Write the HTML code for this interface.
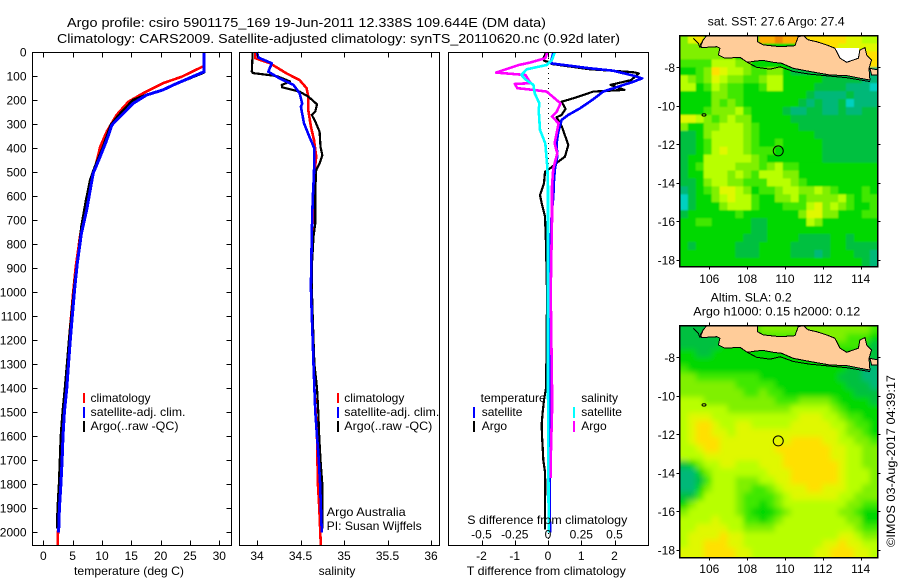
<!DOCTYPE html>
<html lang="en">
<head>
<meta charset="utf-8">
<title>Argo profile csiro 5901175_169</title>
<style>
html,body{margin:0;padding:0;background:#fff;}
svg{display:block;font-family:"Liberation Sans",sans-serif;font-size:12px;fill:#000;}
text{fill:#000;}
.ttl{font-size:13px;}
</style>
</head>
<body>
<svg id="chart" xmlns="http://www.w3.org/2000/svg" width="900" height="580" viewBox="0 0 900 580">
  <rect x="0" y="0" width="900" height="580" fill="#fff"/>
  <defs>
    <clipPath id="clip-sst"><rect x="679" y="35" width="199" height="231"/></clipPath>
    <clipPath id="clip-sla"><rect x="679" y="325" width="199" height="232"/></clipPath>
    <filter id="soft-sst" filterUnits="userSpaceOnUse" x="650" y="0" width="250" height="300"><feGaussianBlur stdDeviation="0.9"/></filter>
    <filter id="soft-sla" filterUnits="userSpaceOnUse" x="650" y="290" width="250" height="300"><feGaussianBlur stdDeviation="3"/></filter>
  </defs>
  <text class="ttl" x="67" y="27" textLength="479" lengthAdjust="spacingAndGlyphs">Argo profile: csiro 5901175_169 19-Jun-2011 12.338S 109.644E (DM data)</text>
  <text class="ttl" x="57" y="43" textLength="563" lengthAdjust="spacingAndGlyphs">Climatology: CARS2009. Satellite-adjusted climatology: synTS_20110620.nc (0.92d later)</text>

  <g id="profiles"></g>
  <g id="maps"></g>

  <g>
    <rect x="83" y="393" width="2" height="10" fill="#f00"/>
    <rect x="83" y="407" width="2" height="11" fill="#00f"/>
    <rect x="83" y="421" width="2" height="11" fill="#000"/>
    <text x="90.5" y="402">climatology</text>
    <text x="90.5" y="416" textLength="95" lengthAdjust="spacingAndGlyphs">satellite-adj. clim.</text>
    <text x="90.5" y="430" textLength="88" lengthAdjust="spacingAndGlyphs">Argo(..raw -QC)</text>
  </g>
  <g>
    <rect x="337" y="393" width="2" height="10" fill="#f00"/>
    <rect x="337" y="407" width="2" height="11" fill="#00f"/>
    <rect x="337" y="421" width="2" height="11" fill="#000"/>
    <text x="344.3" y="402">climatology</text>
    <text x="344.3" y="416" textLength="95" lengthAdjust="spacingAndGlyphs">satellite-adj. clim.</text>
    <text x="344.3" y="430" textLength="88" lengthAdjust="spacingAndGlyphs">Argo(..raw -QC)</text>
    <text x="326.7" y="516" textLength="79" lengthAdjust="spacingAndGlyphs">Argo Australia</text>
    <text x="326.7" y="530" textLength="95" lengthAdjust="spacingAndGlyphs">PI: Susan Wijffels</text>
  </g>
  <g>
    <text x="480.7" y="402" textLength="65" lengthAdjust="spacingAndGlyphs">temperature</text>
    <rect x="473" y="407" width="2" height="11" fill="#00f"/>
    <rect x="473" y="421" width="2" height="11" fill="#000"/>
    <text x="481.7" y="416">satellite</text>
    <text x="481.7" y="430">Argo</text>
    <text x="581.3" y="402">salinity</text>
    <rect x="573" y="407" width="2" height="11" fill="#0ff"/>
    <rect x="573" y="421" width="2" height="11" fill="#f0f"/>
    <text x="581.3" y="416">satellite</text>
    <text x="581.3" y="430">Argo</text>
  </g>

  <text x="129" y="575" text-anchor="middle" textLength="110" lengthAdjust="spacingAndGlyphs">temperature (deg C)</text>
  <text x="337" y="575" text-anchor="middle">salinity</text>
  <text x="546.3" y="575" text-anchor="middle" textLength="159" lengthAdjust="spacingAndGlyphs">T difference from climatology</text>
  <text x="547.3" y="524" text-anchor="middle" textLength="160" lengthAdjust="spacingAndGlyphs">S difference from climatology</text>

  <text x="707.7" y="25.5" textLength="137" lengthAdjust="spacingAndGlyphs">sat. SST: 27.6 Argo: 27.4</text>
  <text x="710.7" y="301.5" textLength="81" lengthAdjust="spacingAndGlyphs">Altim. SLA: 0.2</text>
  <text x="693.3" y="315.5" textLength="167" lengthAdjust="spacingAndGlyphs">Argo h1000: 0.15 h2000: 0.12</text>
  <text transform="translate(895 547) rotate(-90)" x="0" y="0" textLength="172" lengthAdjust="spacingAndGlyphs">©IMOS 03-Aug-2017 04:39:17</text>
</svg>

<script>
// ---------- profile data ----------
const depthTicks = [0,100,200,300,400,500,600,700,800,900,1000,1100,1200,1300,1400,1500,1600,1700,1800,1900,2000];
const tempTicks = [0,5,10,15,20,25,30];
const salTicks = [34,34.5,35,35.5,36];
const tDiffTicks = [-2,-1,0,1,2];
const sDiffTicks = [-0.5,-0.25,0,0.25,0.5];
const sDiffTickLabels = ['-0.5','-0.25','0','0.25','0.5'];

const tempClimDepth = [0,58,103,130,172,207,262,332,395,464,540,640,760,900,1000,1200,1400,1600,1800,2000,2054];
const tempClim = [27.4,27.4,23.6,20.4,17,14.5,12.5,10.8,9.7,9,8,7.2,6.3,5.5,5.1,4.4,3.8,3.2,2.85,2.5,2.45];
const tempArgoDepth = [0,85,137,158,179,200,262,304,395,478,533,617,728,840,950,1050,1200,1300,1400,1500,1600,1700,1800,1900,1985];
const tempArgo = [27.4,27.4,22.2,20.4,17.5,15.3,12.9,11.5,10.2,8.8,8,7.3,6.5,6,5.4,5,4.4,4.05,3.7,3.3,3,2.85,2.7,2.45,2.35];
const tempSatDepth = [0,82,137,158,179,214,262,304,367,436,505,575,658,756,880,985,1100,1200,1300,1400,1500,1600,1700,1800,1900,2003];
const tempSat = [27.4,27.4,22.2,20.4,17.6,15.3,13.4,11.7,10.8,9.7,8.5,8,7.4,6.5,5.8,5.35,4.95,4.6,4.3,4,3.6,3.35,3.2,3,2.75,2.6];

const salClimDepth = [0,26,47,89,117,151,186,242,311,367,436,505,617,756,980,1200,1400,1600,1800,1900,2054];
const salClim = [33.98,33.98,34.15,34.34,34.49,34.57,34.59,34.59,34.62,34.655,34.68,34.66,34.645,34.635,34.625,34.64,34.66,34.69,34.7,34.716,34.733];
const salArgoDepth = [0,82,88,100,123,137,147,165,186,218,248,262,290,332,395,430,464,492,575,714,770,895,980,1100,1200,1300,1400,1500,1600,1700,1800,1900,1985];
const salArgo = [33.95,33.94,33.955,34.225,34.38,34.285,34.29,34.49,34.59,34.69,34.67,34.63,34.67,34.72,34.73,34.75,34.72,34.68,34.67,34.67,34.65,34.63,34.63,34.64,34.65,34.66,34.69,34.705,34.715,34.73,34.75,34.75,34.75];
const salSatDepth = [0,23,47,82,110,137,172,214,228,297,360,402,505,617,756,980,1100,1200,1300,1400,1500,1600,1700,1800,1900,2003];
const salSat = [34,34.015,34.17,34.13,34.26,34.42,34.49,34.52,34.505,34.54,34.61,34.66,34.655,34.64,34.63,34.62,34.63,34.64,34.65,34.66,34.67,34.69,34.71,34.725,34.735,34.745];

const dTArgoDepth = [3,26,37,43,50,72,82,85,89,117,137,158,165,193,207,237,262,272,308,387,436,457,485,499,547,596,630,686,800,1000,1200,1400,1450,1500,1550,1600,1650,1700,1750,1800,1900,1990];
const dTArgo = [-0.06,-0.14,-0.11,0.06,0.11,1.26,2.36,2.6,2.73,2.5,1.88,2.3,1.36,0.76,0.41,0.53,0.41,0.26,0.41,0.61,0.51,0.31,0.06,-0.09,-0.12,-0.24,-0.19,-0.09,-0.06,-0.03,-0.04,-0.06,-0.12,-0.16,-0.19,-0.18,-0.16,-0.14,-0.09,-0.08,-0.09,-0.09];
const dTSatDepth = [3,47,68,78,100,110,124,165,197,235,262,283,332,381,436,485,533,603,672,800,1000,1400,1700,2003];
const dTSat = [0.16,0.08,1.26,1.96,2.61,2.83,2.56,1.66,1.36,0.96,0.61,0.41,0.31,0.26,0.28,0.21,0.18,0.16,0.11,0.08,0.05,0.05,0.05,0.06];
const dSArgoDepth = [3,26,44,54,86,96,130,133,151,158,165,200,214,249,269,297,381,422,485,561,700,1000,1400,1500,1700,1775];
const dSArgo = [-0.005,-0.02,-0.135,-0.22,-0.39,-0.17,-0.13,-0.25,-0.23,-0.11,-0.01,0.065,0.095,0.065,0.03,0.08,0.05,0.07,0.04,0.03,0.03,0.02,0.03,0.03,0.02,0.02];
const dSSatDepth = [3,33,54,72,96,114,137,172,214,242,325,381,478,561,800,1400,2003];
const dSSat = [0.05,0.03,-0.01,-0.16,-0.2,-0.17,-0.11,-0.1,-0.065,-0.07,-0.06,-0.02,-0.005,0,0,0,0.005];

// ---------- map data ----------
const lonTicks = [106,108,110,112,114];
const latTicks = [-8,-10,-12,-14,-16,-18];
const argoLon = 109.644;
const argoLat = -12.338;
const levelColors = {'0':'#00d0c0','1':'#00b878','2':'#00c040','3':'#00d800','4':'#40e800','5':'#80f000','6':'#b8ff00','7':'#e0f800','8':'#ffe000','9':'#ffb000','a':'#f08800'};
const sstRows = [
'578533333399a998888887766','5555533333333338888877777','5555555333333333333377788','4444666553333333333333388',
'3345876654455322222111111','6545765544566333332222211','6634654433466333322221110','3333554433333333211112111',
'3333545433333332121120111','3334555643333211221121122','7765456553333322222222222','5335566654333332222222222',
'2235666654333333322222222','2234666654334333332222222','2234676654443333332222222','2336666665433333332222222',
'2346666555456443333333333','2336665654666553333333333','2235665544466654333333333','1234577653445665565433343',
'0233567664335564555564344','0233356664333444675654334','2333333433333335775533344','3344333332233333653333333',
'3333333332233333333333333','3333333322233332222332333','3233333222333322222332222','3333333222333322212333221','3333333333333333333333321'];
const slaRows = [
'2222333333555555555555554','2222233333444445555554443','2222233333333333444444432','3322333333333333333333332',
'3333333333333333333333322','4333333333333333333332211','5544444444333333333322211','5555555444443333333332221',
'5555555544544333333333222','6665555555554445555433332','6666665555555566666543333','6777666666666667776654433',
'6788766776666677777665443','6788776777777777777765543','6788877777777788887766554','6678877777778888888776655',
'6667777777777888888776655','2356677666777888888876655','1135666666677788888876665','1124666555667788888876665',
'1135666554456777887776655','2246666544445677777766555','3566666544345666666665544','5666666543334566666655433',
'6666766644345666666665533','6677776655556666666666544','6777787766666666666677655','6778887766666666667787766','7778888776666666677888776'];
const gridLonStart = 104.45;
const gridLonEnd = 114.9;
const gridLatTop = -6.35;
const gridLatBottom = -18.3;

const landLon = [105.86,108.54,108.54,108.85,109.74,110.53,110.70,110.97,111.23,111.67,112.20,112.64,112.91,113.26,113.88,113.96,114.23,114.32,114.58,114.44,114.49,114.23,113.26,112.38,111.32,110.44,109.82,109.38,108.85,108.50,108.01,107.62,106.83,106.48,106.56,106.39,105.59,105.54,105.68];
const landLat = [-6.36,-6.36,-6.67,-6.84,-6.93,-6.88,-6.41,-6.36,-6.58,-6.67,-6.84,-7.01,-7.53,-7.74,-7.53,-7.10,-6.98,-7.36,-7.62,-8.05,-8.66,-8.62,-8.43,-8.40,-8.22,-8.05,-7.79,-7.74,-7.64,-7.67,-7.74,-7.48,-7.53,-7.36,-7.01,-6.93,-6.98,-6.81,-6.58];
const southCoastLon = [108.01,108.50,109.21,109.74,110.44,111.32,113.26,114.49];
const southCoastLat = [-7.74,-8.00,-8.10,-7.97,-8.22,-8.36,-8.54,-8.74];
const westCoastLon = [105.15,105.42,105.51,105.68];
const westCoastLat = [-6.5,-6.75,-6.98,-6.58];
const eastIslandLon = [114.49,114.93,114.88,114.58];
const eastIslandLat = [-8.05,-8.14,-8.40,-8.40];
const noDataLon = [112.64,112.91,113.26,113.88,113.93];
const noDataLat = [-7.01,-7.53,-7.74,-7.53,-7.01];
const islandLon = 105.72;
const islandLat = -10.47;

// ---------- axis functions ----------
const NS = 'http://www.w3.org/2000/svg';
const yOfDepth = d => 52 + 0.24 * d;
const xOfTemp = t => 43.3 + 5.867 * t;
const xOfSal = s => 257 + 87 * (s - 34);
const xOfDT = t => 548 + 33.25 * t;
const xOfDS = s => 548 + 133 * s;
const xOfLon = lon => 709.3 + 18.92 * (lon - 106);
const make = (parent, tag, attrs, txt) => {
  const el = document.createElementNS(NS, tag);
  for (const k in attrs) el.setAttribute(k, attrs[k]);
  if (txt !== undefined) el.textContent = txt;
  parent.appendChild(el);
  return el;
};
const prof = document.getElementById('profiles');
const maps = document.getElementById('maps');

function drawProfile(parent, xFn, depths, values, color, width, name) {
  const pts = values.map((v, i) => xFn(v).toFixed(1) + ',' + yOfDepth(depths[i]).toFixed(1)).join(' ');
  const el = make(parent, 'polyline', {points: pts, fill: 'none', stroke: color, 'stroke-width': width, 'stroke-linejoin': 'round', 'shape-rendering': 'crispEdges'});
  
  
}
function drawFrame(parent, x, w, name) {
  const el = make(parent, 'rect', {x: x, y: 52.5, width: w, height: 493, fill: 'none', stroke: '#000', 'stroke-width': 1, 'shape-rendering': 'crispEdges'});
  
  
}
function drawTick(parent, x1, y1, x2, y2, name) {
  const el = make(parent, 'line', {x1: x1, y1: y1, x2: x2, y2: y2, stroke: '#000', 'stroke-width': 1, 'shape-rendering': 'crispEdges'});
  
  
}
function drawLabel(parent, x, y, anchor, str, name) {
  const el = make(parent, 'text', {x: x, y: y, 'text-anchor': anchor}, str);
  
  
}
function xAxisTicks(parent, ticks, xFn, name) {
  ticks.forEach(t => {
    const x = Math.round(xFn(t)) + 0.5;
    drawTick(parent, x, 52.5, x, 57.5, name + '-tick');
    drawTick(parent, x, 540.5, x, 545.5, name + '-tick');
    drawLabel(parent, xFn(t), 560, 'middle', String(t), name + '-tick-label');
  });
}

// temperature panel
drawProfile(prof, xOfTemp, tempClimDepth, tempClim, '#f00', 2.6, 'temperature-climatology-line');
drawProfile(prof, xOfTemp, tempArgoDepth, tempArgo, '#000', 2.6, 'temperature-argo-line');
drawProfile(prof, xOfTemp, tempSatDepth, tempSat, '#00f', 3, 'temperature-satellite-line');
drawFrame(prof, 32.5, 199, 'temperature-panel-frame');
xAxisTicks(prof, tempTicks, xOfTemp, 'temperature-axis');
depthTicks.forEach(d => {
  const y = Math.round(yOfDepth(d)) + 0.5;
  drawTick(prof, 32.5, y, 37.5, y, 'depth-tick');
  drawTick(prof, 226.5, y, 231.5, y, 'depth-tick');
  drawLabel(prof, 26.5, yOfDepth(d) + 4.5, 'end', String(d), 'depth-tick-label');
});

// salinity panel
drawProfile(prof, xOfSal, salClimDepth, salClim, '#f00', 2.6, 'salinity-climatology-line');
drawProfile(prof, xOfSal, salArgoDepth, salArgo, '#000', 2.2, 'salinity-argo-line');
drawProfile(prof, xOfSal, salSatDepth, salSat, '#00f', 2.6, 'salinity-satellite-line');
drawFrame(prof, 239.5, 200, 'salinity-panel-frame');
xAxisTicks(prof, salTicks, xOfSal, 'salinity-axis');

// difference panel
const zeroLine = make(prof, 'line', {x1: xOfDT(0) + 0.5, y1: 53, x2: xOfDT(0) + 0.5, y2: 545, stroke: '#000', 'stroke-width': 1, 'stroke-dasharray': '1 4', 'shape-rendering': 'crispEdges'});


drawProfile(prof, xOfDT, dTArgoDepth, dTArgo, '#000', 2.2, 't-difference-argo-line');
drawProfile(prof, xOfDT, dTSatDepth, dTSat, '#00f', 2.6, 't-difference-satellite-line');
drawProfile(prof, xOfDS, dSArgoDepth, dSArgo, '#f0f', 2.6, 's-difference-argo-line');
drawProfile(prof, xOfDS, dSSatDepth, dSSat, '#0ff', 2.6, 's-difference-satellite-line');
drawFrame(prof, 448.5, 200, 'difference-panel-frame');
xAxisTicks(prof, tDiffTicks, xOfDT, 't-difference-axis');
sDiffTicks.forEach((s, i) => {
  drawLabel(prof, xOfDS(s), 538.5, 'middle', sDiffTickLabels[i], 's-difference-tick-label');
});

// maps
function poly(group, lons, lats, yFn, fill, stroke, closed, name) {
  const pts = lons.map((lo, i) => xOfLon(lo).toFixed(1) + ',' + yFn(lats[i]).toFixed(1)).join(' ');
  const el = make(group, closed ? 'polygon' : 'polyline', {points: pts, fill: fill, stroke: stroke, 'stroke-width': 1, 'stroke-linejoin': 'round', 'shape-rendering': 'crispEdges'});
  
  
}
function drawMap(prefix, rows, latAt8, clipId, filterId, showNoData, top, height, tickLabelY) {
  const yOfLat = lat => latAt8 + 19.27 * (-8 - lat);
  const g = make(maps, 'g', {'clip-path': 'url(#' + clipId + ')'});
  
  
  const cells = make(g, 'g', {filter: 'url(#' + filterId + ')'});
  
  
  const dLon = (gridLonEnd - gridLonStart) / rows[0].length;
  const dLat = (gridLatTop - gridLatBottom) / rows.length;
  const bleed = 12;
  rows.forEach((row, r) => {
    [...row].forEach((level, c) => {
      let x0 = xOfLon(gridLonStart + c * dLon);
      let y0 = yOfLat(gridLatTop - r * dLat);
      let w = 18.92 * dLon + 0.4;
      let h = 19.27 * dLat + 0.4;
      if (c === 0) { x0 -= bleed; w += bleed; }
      if (c === row.length - 1) { w += bleed; }
      if (r === 0) { y0 -= bleed; h += bleed; }
      if (r === rows.length - 1) { h += bleed; }
      const cell = make(cells, 'rect', {x: x0.toFixed(2), y: y0.toFixed(2), width: w.toFixed(2), height: h.toFixed(2), fill: levelColors[level]});
      
      
    });
  });
  if (showNoData) poly(g, noDataLon, noDataLat, yOfLat, '#fff', 'none', true, 'no-data-region');
  poly(g, landLon, landLat, yOfLat, '#ffcc99', '#000', true, 'java-land');
  poly(g, eastIslandLon, eastIslandLat, yOfLat, '#ffcc99', '#000', true, 'bali-land');
  poly(g, southCoastLon, southCoastLat, yOfLat, 'none', '#000', false, 'south-coastline');
  poly(g, westCoastLon, westCoastLat, yOfLat, 'none', '#000', false, 'west-coastline');
  const isl = make(g, 'ellipse', {cx: xOfLon(islandLon), cy: yOfLat(islandLat), rx: 2, ry: 1.2, fill: 'none', stroke: '#000', 'stroke-width': 1});
  
  
  const mark = make(maps, 'circle', {cx: xOfLon(argoLon), cy: yOfLat(argoLat), r: 5, fill: 'none', stroke: '#000', 'stroke-width': 1});
  
  
  const frame = make(maps, 'rect', {x: 679.5, y: top + 0.5, width: 198, height: height, fill: 'none', stroke: '#000', 'stroke-width': 1.5, 'shape-rendering': 'crispEdges'});
  
  
  lonTicks.forEach(lon => {
    const x = Math.round(xOfLon(lon)) + 0.5;
    drawTick(maps, x, top - 2.5, x, top, prefix + '-longitude-tick');
    drawTick(maps, x, top + height + 0.5, x, top + height + 3.5, prefix + '-longitude-tick');
    drawLabel(maps, xOfLon(lon), tickLabelY, 'middle', String(lon), prefix + '-longitude-label');
  });
  latTicks.forEach(lat => {
    const y = Math.round(yOfLat(lat)) + 0.5;
    drawTick(maps, 676.5, y, 679, y, prefix + '-latitude-tick');
    drawTick(maps, 878, y, 880.5, y, prefix + '-latitude-tick');
    drawLabel(maps, 675, yOfLat(lat) + 4.5, 'end', String(lat), prefix + '-latitude-label');
  });
}
drawMap('sst', sstRows, 67.3, 'clip-sst', 'soft-sst', true, 35, 231, 283);
drawMap('sla', slaRows, 357.3, 'clip-sla', 'soft-sla', false, 325, 232, 573);
</script>
</body>
</html>
